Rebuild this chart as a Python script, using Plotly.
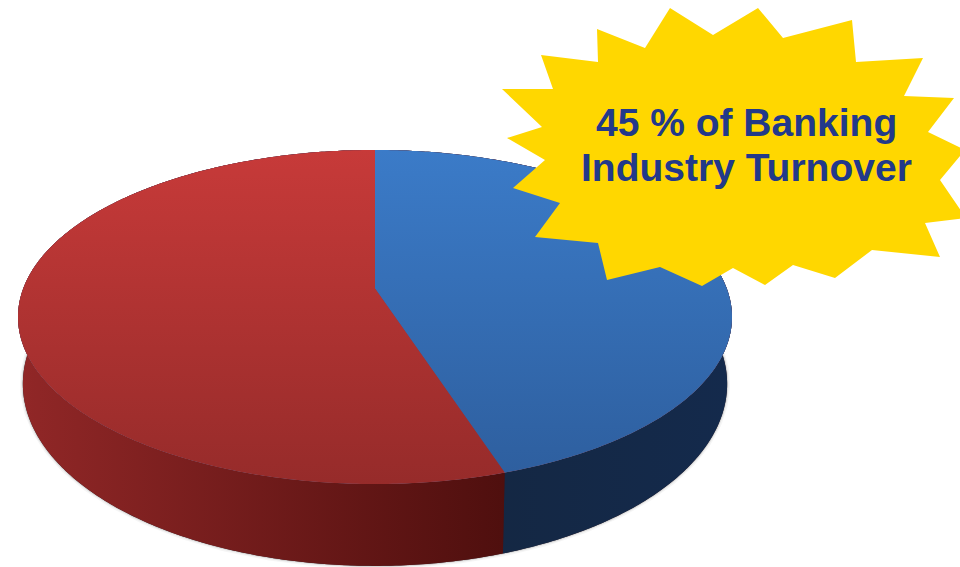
import numpy as np
import plotly.graph_objects as go

# Slice shares in percent, clockwise from twelve o'clock
slice_names = ["Banking", "Other"]
slice_shares = [45, 55]
callout_lines = ["45 % of Banking", "Industry Turnover"]

TOP_RIM = dict(cx=375, cy=288.6, rx=351.8, ry=162.2, k=0.17)
BASE_RIM = dict(cx=375, cy=353, rx=347, ry=176.7, k=0.17)

# Outline of the starburst callout
burst_outline = [
    (670, 8), (713, 35), (758, 8), (783, 38), (852, 20), (856, 62), (923, 58),
    (904, 96), (954, 98), (928, 132), (965, 150), (940, 180), (966, 218),
    (925, 223), (940, 257), (872, 250), (835, 278), (793, 265), (765, 285),
    (733, 268), (702, 286), (660, 267), (607, 280), (598, 243), (535, 237),
    (560, 203), (513, 188), (545, 160), (507, 138), (542, 127), (502, 89),
    (553, 89), (541, 55), (598, 62), (597, 29), (645, 48),
]


def rim(theta, c):
    """Perspective projection of a disc rim; theta runs clockwise from the back."""
    u, v = np.sin(theta), -np.cos(theta)
    w = 1 - c["k"] * v
    return c["cx"] + c["rx"] * u / w, c["cy"] + c["ry"] * v / w


def arc(start_pct, stop_pct):
    n = max(int(abs(stop_pct - start_pct) * 6), 8)
    return np.linspace(start_pct, stop_pct, n) * 2 * np.pi / 100


bounds = np.cumsum([0] + slice_shares)
blue_top = ["#3B7BC8", "#2E5F9F"]
red_top = ["#C73A39", "#962B2A"]
blue_wall = ["#142A4C", "#14263F"]
red_wall = ["#912727", "#4F0F0E"]

fig = go.Figure()

# Soft contact shadow hugging the base of the disc
bx, by = rim(arc(0, 100), BASE_RIM)
for width, alpha in [(6, 0.04), (3, 0.07), (1.5, 0.1)]:
    fig.add_trace(go.Scatter(x=bx, y=by, mode="lines", hoverinfo="skip",
                             line=dict(color=f"rgba(0,0,0,{alpha})", width=width)))

# Dark underlay so no pale seam shows between the two walls
full = arc(0, 100)
tx, ty = rim(full, TOP_RIM)
lx, ly = rim(full[::-1], BASE_RIM)
fig.add_trace(go.Scatter(x=np.r_[tx, lx], y=np.r_[ty, ly], mode="none", fill="toself",
                         fillcolor="#2E1822", hoverinfo="skip"))

# Side walls
for i, wall in enumerate([blue_wall, red_wall]):
    t = arc(bounds[i], bounds[i + 1])
    tx, ty = rim(t, TOP_RIM)
    lx, ly = rim(t[::-1], BASE_RIM)
    fig.add_trace(go.Scatter(
        x=np.r_[tx, lx], y=np.r_[ty, ly], mode="none", fill="toself",
        name=slice_names[i], hoverinfo="skip",
        fillgradient=dict(type="horizontal",
                          colorscale=[[0, wall[0] if i == 1 else wall[1]],
                                      [1, wall[1] if i == 1 else wall[0]]]),
    ))

# Same trick under the top faces
ex, ey = rim(full, TOP_RIM)
fig.add_trace(go.Scatter(x=ex, y=ey, mode="none", fill="toself",
                         fillcolor="#6A3F62", hoverinfo="skip"))

# Top faces
for i, face in enumerate([blue_top, red_top]):
    t = arc(bounds[i], bounds[i + 1])
    ex, ey = rim(t, TOP_RIM)
    fig.add_trace(go.Scatter(
        x=np.r_[TOP_RIM["cx"], ex, TOP_RIM["cx"]],
        y=np.r_[TOP_RIM["cy"], ey, TOP_RIM["cy"]],
        mode="none", fill="toself", name=slice_names[i], hoverinfo="skip",
        fillgradient=dict(type="vertical",
                          colorscale=[[0, face[1]], [1, face[0]]]),
    ))

burst_path = "M" + " L".join(f"{x},{y}" for x, y in burst_outline) + " Z"

fig.update_layout(
    width=960, height=567, showlegend=False,
    margin=dict(l=0, r=0, t=0, b=0),
    paper_bgcolor="white", plot_bgcolor="white",
    xaxis=dict(range=[0, 960], visible=False, fixedrange=True),
    yaxis=dict(range=[567, 0], visible=False, fixedrange=True),
    shapes=[dict(type="path", path=burst_path, xref="x", yref="y",
                 fillcolor="#FFD700", line=dict(width=0), layer="above")],
    annotations=[
        dict(text=line, x=746, y=y, xref="x", yref="y", xanchor="center",
             yanchor="middle", showarrow=False,
             font=dict(family="Liberation Sans", size=39, color="#22398A", weight="bold"))
        for line, y in zip(callout_lines, [122, 167])
    ],
)

fig.write_html("out.html", config=dict(displayModeBar=False))
